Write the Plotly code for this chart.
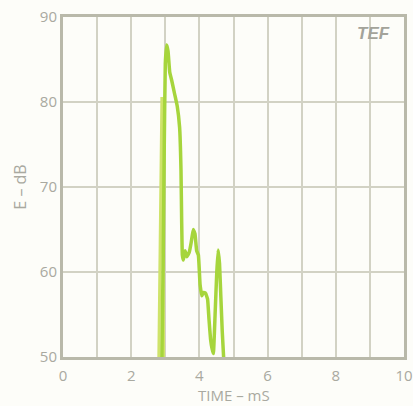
import plotly.graph_objects as go

# Main energy-time curve (ms, dB)
time_main = [2.90, 2.94, 2.97, 3.00, 3.04, 3.08, 3.13, 3.19, 3.27, 3.35, 3.42, 3.46, 3.48, 3.50, 3.53, 3.58, 3.63, 3.70, 3.76, 3.82, 3.87, 3.92, 3.97, 4.02, 4.07, 4.12, 4.18, 4.24, 4.28, 4.33, 4.37, 4.41, 4.46, 4.51, 4.55, 4.59, 4.63, 4.67, 4.71]
db_main = [50.0, 62.0, 75.0, 84.5, 86.7, 86.0, 83.5, 82.5, 81.0, 79.5, 77.0, 72.0, 66.0, 62.0, 61.4, 62.5, 61.8, 62.3, 63.5, 65.0, 64.5, 62.5, 62.0, 58.5, 57.2, 57.6, 57.5, 56.8, 54.5, 52.0, 51.0, 50.4, 55.0, 60.0, 62.6, 61.0, 57.0, 53.0, 50.0]

# Lighter first spike
time_spike = [2.81, 2.85, 2.88, 2.90, 2.92, 2.95]
db_spike = [50.0, 68.0, 78.0, 80.6, 74.0, 50.0]

x_ticks = [0, 2, 4, 6, 8, 10]
y_ticks = [50, 60, 70, 80, 90]

fig = go.Figure()
fig.add_trace(go.Scatter(x=time_spike, y=db_spike, mode="lines",
                         line=dict(color="#cfe36a", width=3), hoverinfo="skip"))
fig.add_trace(go.Scatter(x=time_main, y=db_main, mode="lines",
                         line=dict(color="#a6d53c", width=3.5, shape="spline", smoothing=0.3)))

grid_col = "#d2d2c4"
axis_col = "#b9b9aa"
font_col = "#a9a9a0"

fig.update_layout(
    width=413, height=406,
    margin=dict(l=63, r=9, t=17, b=49),
    paper_bgcolor="#fdfdf9", plot_bgcolor="#fdfdf9",
    showlegend=False,
    font=dict(family="Open Sans, Arial, sans-serif", color=font_col, size=15),
    xaxis=dict(range=[0, 10], tickvals=list(range(11)),
               ticktext=[str(v) if v in x_ticks else "" for v in range(11)],
               showgrid=True, gridcolor=grid_col, gridwidth=2,
               showline=True, linecolor=axis_col, linewidth=3, mirror=True,
               zeroline=False, ticks="", ticklabelstandoff=3, automargin=False,
               tickfont=dict(size=15, color=font_col)),
    yaxis=dict(range=[50, 90], tickvals=y_ticks,
               showgrid=True, gridcolor=grid_col, gridwidth=2,
               showline=True, linecolor=axis_col, linewidth=3, mirror=True,
               zeroline=False, ticks="", automargin=False,
               title=dict(text="E – dB", standoff=10, font=dict(size=16, color=font_col)),
               tickfont=dict(size=15, color=font_col)),
)

fig.add_annotation(x=0.5, y=-0.113, xref="paper", yref="paper", text="TIME – mS",
                   showarrow=False, xanchor="center", yanchor="middle",
                   font=dict(size=15, color=font_col))

fig.add_annotation(x=0.965, y=0.985, xref="paper", yref="paper", text="<i><b>TEF</b></i>",
                   showarrow=False, xanchor="right", yanchor="top",
                   font=dict(size=17, color="#a3a39a", family="Arial, sans-serif"))

fig.write_html("out.html")
